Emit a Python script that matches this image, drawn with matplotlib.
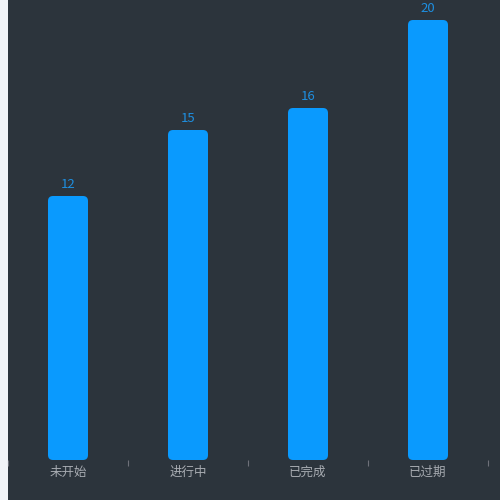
import matplotlib
matplotlib.use("Agg")
import matplotlib.pyplot as plt
from matplotlib.patches import FancyBboxPatch

plt.rcParams['font.family'] = ['Noto Sans CJK SC', 'DejaVu Sans']

categories = ['未开始', '进行中', '已完成', '已过期']
values = [12, 15, 16, 20]

bg = '#2c343c'
bar_color = '#0a9afe'
label_color = '#1e8fe0'
tick_color = '#a8acb2'

fig = plt.figure(figsize=(5, 5), dpi=100)
fig.patch.set_facecolor('#f1f3f7')
# dark panel
fig.add_artist(plt.Rectangle((8/500, 0), 492/500, 1, transform=fig.transFigure,
                             facecolor=bg, edgecolor='none', zorder=0))
ax = fig.add_axes([8/500, 40/500, 480/500, 440/500])
ax.set_facecolor('none')
ax.set_xlim(-0.5, len(categories) - 0.5)
ax.set_ylim(0, 20)

width = 40/120
rx = 5/120
aspect = (20/440) / (1/120)
for i, v in enumerate(values):
    p = FancyBboxPatch((i - width/2, 0), width, v,
                       boxstyle=f"round,pad=0,rounding_size={rx}",
                       mutation_aspect=aspect,
                       facecolor=bar_color, edgecolor='none')
    ax.add_patch(p)
    ax.annotate(str(v), (i, v), xytext=(0, 3.5), textcoords='offset points',
                ha='center', va='bottom', color=label_color, fontsize=9.5)

for s in ax.spines.values():
    s.set_visible(False)
ax.set_yticks([])
ax.set_xticks(range(len(categories)))
ax.set_xticklabels(categories, color=tick_color, fontsize=9)
ax.tick_params(axis='x', length=0, pad=4)
ax.set_xticks([i - 0.5 for i in range(len(categories) + 1)], minor=True)
ax.tick_params(axis='x', which='minor', length=4, color='#6e7079', width=0.8, direction='out')

fig.savefig('out.png', dpi=100, facecolor=fig.get_facecolor())
